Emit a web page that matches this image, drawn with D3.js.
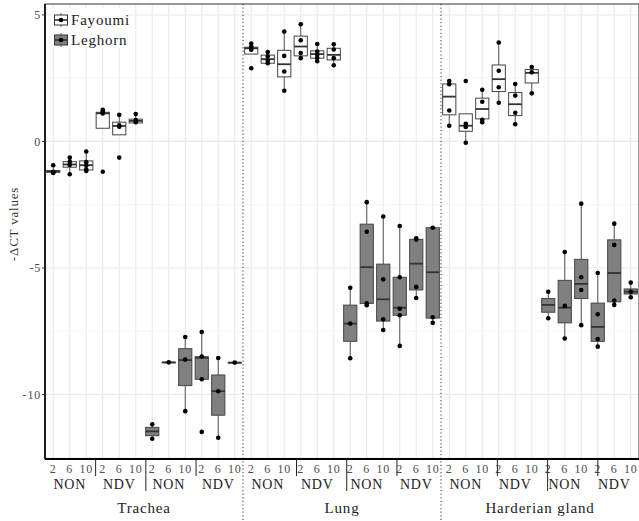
<!DOCTYPE html>
<html>
<head>
    <meta charset="utf-8">
    <script src="https://d3js.org/d3.v7.min.js"></script>
    <style>
        body { margin: 0; background: #fff; }
        text { font-family: "Liberation Serif", "DejaVu Serif", serif; letter-spacing: 0.8px; }
    </style>
</head>
<body>
    <svg width="639" height="521"></svg>

    <script>
        // categories
        var tissues = ["Trachea", "Lung", "Harderian gland"];
        var breeds = ["Fayoumi", "Leghorn"];
        var treatments = ["NON", "NDV"];
        var days = ["2", "6", "10"];
        var yTicks = [5, 0, -5, -10];

        // box statistics, one value per group (tissue > breed > treatment > day)
        var boxLow = [-1.25, -1.3, -1.17, 0.52, 0.26, 0.73,
                      -11.75, -8.73, -10.66, -9.4, -11.71, -8.74,
                      3.45, 3.09, 2.0, 3.29, 3.17, 3.01,
                      -8.57, -6.47, -7.45, -8.08, -6.19, -7.17,
                      0.62, -0.05, 0.76, 1.53, 0.68, 1.9,
                      -6.99, -7.79, -7.26, -8.11, -6.46, -6.16];
        var boxQ1 = [-1.22, -1.02, -1.13, 0.52, 0.26, 0.73,
                     -11.63, -8.73, -9.65, -9.4, -10.82, -8.74,
                     3.45, 3.09, 2.55, 3.38, 3.29, 3.22,
                     -7.9, -6.4, -7.1, -6.87, -5.87, -6.98,
                     1.05, 0.4, 0.89, 1.97, 1.02, 2.31,
                     -6.75, -7.17, -6.21, -7.9, -6.34, -6.03];
        var boxMedian = [-1.19, -0.91, -0.94, 1.11, 0.61, 0.81,
                         -11.46, -8.73, -8.64, -8.55, -9.87, -8.74,
                         3.68, 3.25, 3.05, 3.75, 3.45, 3.42,
                         -7.2, -4.97, -6.24, -6.57, -4.83, -5.17,
                         1.77, 0.62, 1.28, 2.46, 1.47, 2.71,
                         -6.46, -6.57, -5.63, -7.33, -5.2, -5.94];
        var boxQ3 = [-1.15, -0.8, -0.77, 1.15, 0.76, 0.88,
                     -11.3, -8.73, -8.19, -8.51, -9.23, -8.74,
                     3.72, 3.41, 3.6, 4.16, 3.58, 3.68,
                     -6.47, -3.27, -4.85, -5.37, -3.87, -3.41,
                     2.27, 1.09, 1.71, 3.02, 1.93, 2.84,
                     -6.21, -5.49, -4.66, -6.39, -3.89, -5.83];
        var boxHigh = [-0.94, -0.64, -0.4, 1.25, 1.05, 1.08,
                       -11.18, -8.73, -7.73, -7.53, -8.56, -8.74,
                       3.87, 3.53, 4.34, 4.63, 3.85, 3.84,
                       -5.78, -2.4, -2.97, -3.34, -3.83, -3.41,
                       2.39, 1.09, 2.04, 3.91, 2.27, 2.94,
                       -5.94, -4.37, -2.46, -5.2, -3.25, -5.58];

        // individual samples per group
        var samples = [
            [-0.94, -1.2, -1.25, -1.22], [-0.64, -0.8, -0.93, -1.3], [-0.4, -0.82, -0.95, -1.1, -1.17],
            [1.25, 1.2, 1.13, 1.1, -1.2], [1.05, 0.64, 0.58, -0.64], [1.08, 0.84, 0.76],
            [-11.18, -11.75], [-8.73], [-7.73, -8.62, -10.66],
            [-7.53, -8.5, -9.4, -11.48], [-8.56, -9.87, -11.71], [-8.74],
            [3.87, 3.75, 3.68, 3.62, 2.89], [3.53, 3.36, 3.2, 3.09], [4.34, 3.38, 2.76, 2.0],
            [4.63, 4.0, 3.49, 3.29], [3.85, 3.55, 3.42, 3.3, 3.17], [3.84, 3.63, 3.29, 3.01],
            [-5.78, -7.2, -8.57], [-2.4, -3.57, -6.4, -6.47], [-2.97, -5.45, -7.03, -7.45],
            [-3.34, -5.37, -6.61, -6.87, -8.08], [-3.83, -3.88, -5.75, -6.19], [-3.41, -6.95, -7.17],
            [2.39, 2.26, 1.22, 0.62], [2.39, 0.7, 0.57, -0.05], [2.04, 1.57, 0.85, 0.76],
            [3.91, 2.79, 2.14, 1.53], [2.27, 1.81, 1.13, 0.68], [2.94, 2.73, 1.9],
            [-5.94, -6.99], [-4.37, -6.5, -7.79], [-2.46, -5.37, -5.87, -7.26],
            [-5.2, -6.83, -7.81, -8.11], [-3.25, -4.09, -6.29, -6.46], [-5.58, -5.94, -6.16]
        ];

        var svg = d3.select("svg");
        var mLeft = 45, mRight = 639, mTop = 4, mBottom = 459;

        // build group list
        var groups = [];
        tissues.forEach(function(t) {
            breeds.forEach(function(b) {
                treatments.forEach(function(tr) {
                    days.forEach(function(d) {
                        var i = groups.length;
                        groups.push({
                            key: i, tissue: t, breed: b, treatment: tr, day: d,
                            low: boxLow[i], q1: boxQ1[i], median: boxMedian[i],
                            q3: boxQ3[i], high: boxHigh[i], points: samples[i]
                        });
                    });
                });
            });
        });

        var x = d3.scaleBand()
            .domain(groups.map(function(g) { return g.key; }))
            .range([mLeft, mRight])
            .padding(0);

        var y = d3.scaleLinear()
            .domain([-12.55, 5.43])
            .range([mBottom, mTop]);

        var fill = d3.scaleOrdinal().domain(breeds).range(["#ffffff", "#808080"]);

        function cx(g) { return x(g.key) + x.bandwidth() / 2; }

        // grid
        var grid = svg.append("g");
        grid.selectAll(".minor")
            .data([-12.5, -7.5, -2.5, 2.5])
            .enter().append("line")
            .attr("x1", mLeft).attr("x2", mRight)
            .attr("y1", function(d) { return y(d); })
            .attr("y2", function(d) { return y(d); })
            .attr("stroke", "#f4f4f4").attr("stroke-width", 0.8);
        grid.selectAll(".major")
            .data(yTicks)
            .enter().append("line")
            .attr("x1", mLeft).attr("x2", mRight)
            .attr("y1", function(d) { return y(d); })
            .attr("y2", function(d) { return y(d); })
            .attr("stroke", "#ebebeb").attr("stroke-width", 1.2);
        grid.selectAll(".vgrid")
            .data(groups)
            .enter().append("line")
            .attr("x1", cx).attr("x2", cx)
            .attr("y1", mTop).attr("y2", mBottom)
            .attr("stroke", "#ebebeb").attr("stroke-width", 1.2);

        // panel border
        svg.append("rect")
            .attr("x", mLeft).attr("y", mTop)
            .attr("width", mRight - mLeft).attr("height", mBottom - mTop)
            .attr("fill", "none").attr("stroke", "#333").attr("stroke-width", 1);

        // tissue separators
        svg.append("g").selectAll("line")
            .data([12, 24])
            .enter().append("line")
            .attr("x1", function(k) { return x(k); })
            .attr("x2", function(k) { return x(k); })
            .attr("y1", mTop).attr("y2", 521)
            .attr("stroke", "#333").attr("stroke-width", 1)
            .attr("stroke-dasharray", "1.2,2.4");

        // boxes
        var bw = x.bandwidth() * 0.8;
        var box = svg.append("g").selectAll("g")
            .data(groups)
            .enter().append("g")
            .attr("transform", function(g) { return "translate(" + cx(g) + ",0)"; });

        box.append("line")
            .attr("x1", 0).attr("x2", 0)
            .attr("y1", function(g) { return y(g.high); })
            .attr("y2", function(g) { return y(g.q3); })
            .attr("stroke", "#555").attr("stroke-width", 1);
        box.append("line")
            .attr("x1", 0).attr("x2", 0)
            .attr("y1", function(g) { return y(g.q1); })
            .attr("y2", function(g) { return y(g.low); })
            .attr("stroke", "#555").attr("stroke-width", 1);
        box.append("rect")
            .attr("x", -bw / 2)
            .attr("width", bw)
            .attr("y", function(g) { return y(g.q3); })
            .attr("height", function(g) { return Math.max(0.5, y(g.q1) - y(g.q3)); })
            .attr("fill", function(g) { return fill(g.breed); })
            .attr("stroke", "#444").attr("stroke-width", 1);
        box.append("line")
            .attr("x1", -bw / 2).attr("x2", bw / 2)
            .attr("y1", function(g) { return y(g.median); })
            .attr("y2", function(g) { return y(g.median); })
            .attr("stroke", "#333").attr("stroke-width", 1.8);
        box.selectAll("circle")
            .data(function(g) { return g.points; })
            .enter().append("circle")
            .attr("cx", 0)
            .attr("cy", function(v) { return y(v); })
            .attr("r", 2.3)
            .attr("fill", "#000");

        // y axis
        svg.append("line")
            .attr("x1", mLeft).attr("x2", mLeft)
            .attr("y1", mTop).attr("y2", mBottom)
            .attr("stroke", "#000").attr("stroke-width", 1.6);
        var yAxis = svg.append("g");
        yAxis.selectAll("line")
            .data(yTicks)
            .enter().append("line")
            .attr("x1", mLeft - 3).attr("x2", mLeft)
            .attr("y1", function(d) { return y(d); })
            .attr("y2", function(d) { return y(d); })
            .attr("stroke", "#333");
        yAxis.selectAll("text")
            .data(yTicks)
            .enter().append("text")
            .attr("x", mLeft - 4)
            .attr("y", function(d) { return y(d); })
            .attr("dy", "0.35em")
            .attr("text-anchor", "end")
            .attr("font-size", 12)
            .attr("fill", "#4d4d4d")
            .text(function(d) { return d; });

        svg.append("text")
            .attr("transform", "translate(18,224) rotate(-90)")
            .attr("text-anchor", "middle")
            .attr("font-size", 13)
            .attr("fill", "#333")
            .text("-\u0394CT values");

        // x axis
        svg.append("line")
            .attr("x1", mLeft).attr("x2", mRight)
            .attr("y1", mBottom).attr("y2", mBottom)
            .attr("stroke", "#000").attr("stroke-width", 1.8);

        svg.append("g").selectAll("text")
            .data(groups)
            .enter().append("text")
            .attr("x", cx)
            .attr("y", 473)
            .attr("text-anchor", "middle")
            .attr("font-size", 12)
            .attr("fill", "#4d4d4d")
            .text(function(g) { return g.day; });

        var trGroups = groups.filter(function(g) { return g.day === "6"; });
        svg.append("g").selectAll("text")
            .data(trGroups)
            .enter().append("text")
            .attr("x", cx)
            .attr("y", 489)
            .attr("text-anchor", "middle")
            .attr("font-size", 14)
            .attr("fill", "#222")
            .text(function(g) { return g.treatment; });

        var tissueGroups = groups.filter(function(g) { return g.breed === "Fayoumi" && g.treatment === "NDV" && g.day === "10"; });
        svg.append("g").selectAll("text")
            .data(tissueGroups)
            .enter().append("text")
            .attr("x", function(g) { return x(g.key) + x.bandwidth(); })
            .attr("y", 513)
            .attr("text-anchor", "middle")
            .attr("font-size", 15)
            .attr("fill", "#222")
            .text(function(g) { return g.tissue; });

        // separators under the axis (drawn in slightly wider annotation space)
        var sep = d3.scaleLinear().domain([0, 36]).range([45.4, 45.4 + 36 * 16.74]);
        var seps = d3.range(3, 36, 3).filter(function(k) { return k % 12 !== 0; });
        svg.append("g").selectAll("line")
            .data(seps)
            .enter().append("line")
            .attr("x1", function(k) { return sep(k); })
            .attr("x2", function(k) { return sep(k); })
            .attr("y1", mBottom)
            .attr("y2", function(k) { return k % 6 === 0 ? 491 : 476; })
            .attr("stroke", "#222").attr("stroke-width", 1);

        // legend
        var legend = svg.append("g");
        legend.append("rect")
            .attr("x", 50).attr("y", 8).attr("width", 78).attr("height", 40)
            .attr("fill", "#fff");
        var item = legend.selectAll("g")
            .data(breeds)
            .enter().append("g")
            .attr("transform", function(d, i) { return "translate(61," + (20 + i * 20) + ")"; });
        item.append("line")
            .attr("x1", 0).attr("x2", 0).attr("y1", -7).attr("y2", 7)
            .attr("stroke", "#555");
        item.append("rect")
            .attr("x", -6.5).attr("y", -5).attr("width", 13).attr("height", 10)
            .attr("fill", function(d) { return fill(d); })
            .attr("stroke", "#333");
        item.append("line")
            .attr("x1", -6.5).attr("x2", 6.5).attr("y1", 0).attr("y2", 0)
            .attr("stroke", "#333").attr("stroke-width", 1.6);
        item.append("circle")
            .attr("r", 2.3).attr("fill", "#000");
        item.append("text")
            .attr("x", 10)
            .attr("y", 0)
            .attr("dy", "0.35em")
            .attr("font-size", 15)
            .attr("fill", "#222")
            .text(function(d) { return d; });
    </script>
</body>
</html>
